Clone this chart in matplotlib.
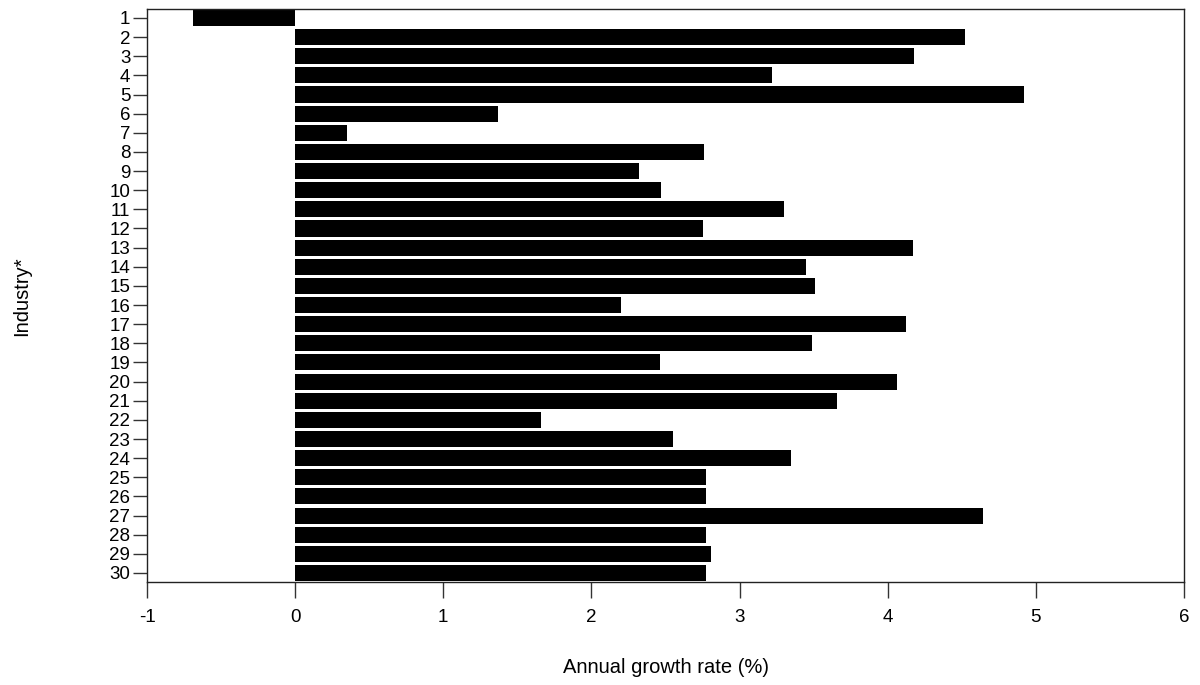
import numpy as np
import matplotlib
matplotlib.use('Agg')
import matplotlib.pyplot as plt

plt.rcParams['font.family'] = ['Liberation Sans', 'DejaVu Sans']

# industry codes and annual growth rates (%)
industries = list(range(1, 31))
growth = [-0.69, 4.52, 4.18, 3.22, 4.92, 1.37, 0.35, 2.76, 2.32, 2.47,
          3.30, 2.75, 4.17, 3.45, 3.51, 2.20, 4.12, 3.49, 2.46, 4.06,
          3.66, 1.66, 2.55, 3.35, 2.77, 2.77, 4.64, 2.77, 2.81, 2.77]
xticks = [-1, 0, 1, 2, 3, 4, 5, 6]

fig = plt.figure(figsize=(12, 6.85), dpi=100)
ax = fig.add_axes([0.1225, 0.1504, 0.8642, 0.8365])

ax.barh(industries, growth, height=0.84, color='black', edgecolor='none')

ax.set_xlim(-1, 6)
ax.set_ylim(30.47, 0.53)
ax.set_xticks(xticks)
ax.set_xticklabels([str(t) for t in xticks])
ax.set_yticks(industries)
ax.set_yticklabels([str(i) for i in industries])

ax.tick_params(axis='x', direction='out', length=11.5, width=1, pad=8,
               labelsize=13.5, color='#333333')
ax.tick_params(axis='y', direction='out', length=10, width=1, pad=2,
               labelsize=13.5, color='#333333')
for s in ax.spines.values():
    s.set_linewidth(1)
    s.set_color('#222222')

# axis titles centred on the plotting area
fig.text(0.5546, 0.025, 'Annual growth rate (%)', ha='center', va='center', fontsize=14.5)
fig.text(0.018, 0.567, 'Industry*', ha='center', va='center', rotation=90, fontsize=14.5)

fig.savefig('out.png', dpi=100)
